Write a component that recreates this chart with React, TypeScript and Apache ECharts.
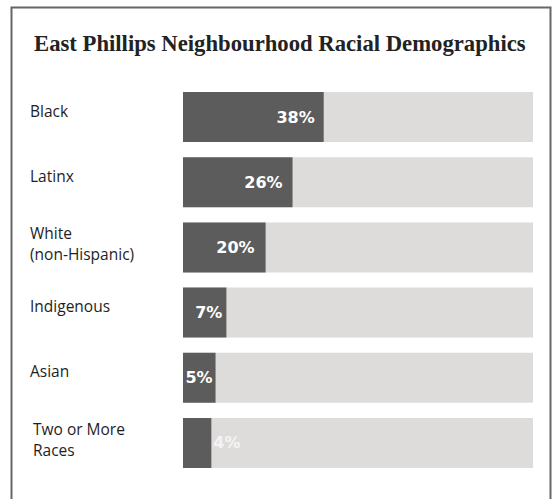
import React, { useEffect, useRef } from "react";
import * as echarts from "echarts";

const categories = ["Black", "Latinx", "White\n(non-Hispanic)", "Indigenous", "Asian", "Two or More\nRaces"];
const barLengths = [40.2, 31.3, 23.6, 12.4, 9.3, 8.1];
const valueLabels = ["38%", "26%", "20%", "7%", "5%", "4%"];
const trackMax = 100;

const labelGap = [9, 10, 11, 4, 3, 2];
const labelOutside = [false, false, false, false, false, true];
const indentedCategory = 5;

export default function App() {
  const ref = useRef<HTMLDivElement>(null);
  useEffect(() => {
    if (!ref.current) return;
    const chart = echarts.init(ref.current, undefined, { renderer: "svg" });
    const data = barLengths.map((v, i) => ({
      value: v,
      label: {
        show: true,
        formatter: valueLabels[i],
        position: labelOutside[i] ? "right" : "insideRight",
        distance: labelGap[i],
        color: labelOutside[i] ? "#f4f4f4" : "#ffffff",
      },
    }));
    const labelFont = {
      fontFamily: "Open Sans",
      fontSize: 15.5,
      color: "#1e1e1e",
      lineHeight: 21,
    };
    chart.setOption({
      animation: false,
      backgroundColor: "#ffffff",
      title: {
        text: "East Phillips Neighbourhood Racial Demographics",
        left: 29,
        top: 27,
        textStyle: {
          fontFamily: "Liberation Serif",
          fontWeight: "bold",
          fontSize: 22.7,
          color: "#222222",
        },
      },
      graphic: [
        {
          type: "polyline",
          shape: { points: [[11.5, 499], [11.5, 7.5], [550.5, 7.5], [550.5, 499]] },
          style: { stroke: "#666666", lineWidth: 2, fill: "none" },
          silent: true,
        },
      ],
      grid: { left: 183, right: 23, top: 84.5, bottom: 23.5 },
      xAxis: {
        type: "value",
        min: 0,
        max: trackMax,
        show: false,
      },
      yAxis: {
        type: "category",
        data: categories,
        inverse: true,
        axisLine: { show: false },
        axisTick: { show: false },
        axisLabel: {
          align: "left",
          margin: 153,
          formatter: (v: string, idx: number) => {
            const key = idx === indentedCategory ? "t" : "m";
            return v.indexOf("\n") >= 0
              ? v.split("\n").map((s) => `{${key}|${s}}`).join("\n")
              : `{s|${v}}`;
          },
          rich: {
            s: { ...labelFont, padding: [0, 0, 13, 0] },
            m: { ...labelFont, padding: [0, 0, 7, 0] },
            t: { ...labelFont, padding: [0, 0, 7, 3] },
          },
        },
      },
      series: [
        {
          type: "bar",
          data,
          barWidth: 50,
          itemStyle: { color: "#5c5c5c" },
          showBackground: true,
          backgroundStyle: { color: "#dddcdb" },
          label: {
            fontFamily: "DejaVu Sans",
            fontWeight: "bold",
            fontSize: 16,
          },
        },
      ],
    });
    return () => chart.dispose();
  }, []);
  return <div ref={ref} style={{ width: 556, height: 499, position: "absolute", left: 0, top: 0 }} />;
}
